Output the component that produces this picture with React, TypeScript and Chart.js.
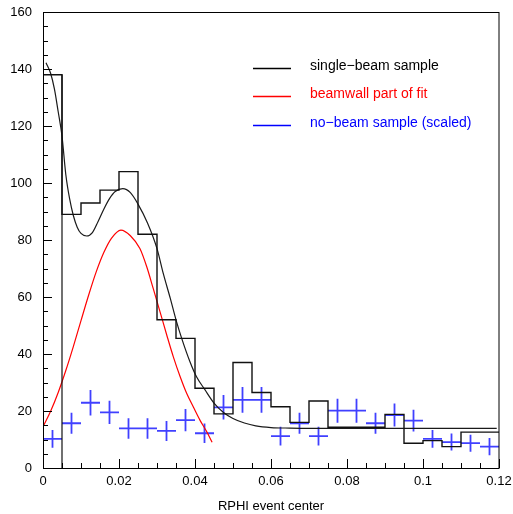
import React, { useEffect, useRef } from "react";
import { Chart, registerables } from "chart.js";

Chart.register(...registerables);

// ---------- data ----------
const binLowEdges = [
  0, 0.005, 0.01, 0.015, 0.02, 0.025, 0.03, 0.035, 0.04, 0.045, 0.05, 0.055,
  0.06, 0.065, 0.07, 0.075, 0.08, 0.085, 0.09, 0.095, 0.1, 0.105, 0.11, 0.115,
];
const binWidth = 0.005;
const singleBeamCounts = [
  138, 89, 93, 97.5, 104, 82, 52, 45.5, 28, 19, 37, 26.5, 21.5, 16, 23.5, 14.3,
  14.3, 14.3, 18.8, 8.7, 9.6, 7.5, 12.6, 12.6,
];
const noBeamValues = [
  10.2, 15.7, 22.9, 19.5, 13.9, 13.9, 13.0, 16.8, 12.2, 21.3, 23.9, 23.9, 11.2,
  15.7, 11.2, 20.1, 20.1, 15.7, 18.6, 16.6, 10.2, 9.1, 8.7, 7.5,
];
const noBeamErrors = [
  3.1, 3.7, 4.5, 4.1, 3.6, 3.6, 3.5, 3.9, 3.4, 4.3, 4.5, 4.5, 3.3, 3.7, 3.3,
  4.2, 4.2, 3.7, 4.0, 3.8, 3.1, 3.0, 3.0, 3.0,
];
const fitX = [
  0.0008, 0.002, 0.003, 0.004, 0.005, 0.006, 0.007, 0.008, 0.009, 0.01, 0.0115,
  0.013, 0.0145, 0.016, 0.0175, 0.019, 0.021, 0.023, 0.025, 0.0275, 0.03,
  0.0317, 0.0335, 0.035, 0.0365, 0.0387, 0.0404, 0.0426, 0.045, 0.0475, 0.05,
  0.053, 0.056, 0.06, 0.065, 0.07, 0.08, 0.09, 0.1, 0.11, 0.1194,
];
const fitY = [
  142.2, 138.5, 133, 125, 116.5, 103, 94.5, 88.5, 84.5, 82.3, 81.4, 82.6, 86.5,
  90.8, 94.5, 97, 98, 96.6, 92.6, 86, 77, 68, 59.5, 52, 45.5, 37.2, 32, 27.5,
  22.8, 19.5, 17.4, 15.8, 14.8, 14.2, 14, 13.9, 13.9, 13.9, 13.9, 13.9, 13.9,
];
const wallX = [
  0, 0.002, 0.004, 0.006, 0.008, 0.01, 0.012, 0.014, 0.016, 0.018, 0.0205,
  0.023, 0.0255, 0.0273, 0.029, 0.0308, 0.0326, 0.0343, 0.0361, 0.0378, 0.0396,
  0.0413, 0.0431, 0.0445,
];
const wallY = [
  14.5, 19.9, 26.5, 34.2, 42.7, 51.7, 60.6, 68.8, 75.6, 80.6, 83.5, 81.5, 77,
  70.6, 63, 54.8, 46.5, 39, 32, 26.2, 21.3, 16.8, 12.7, 9,
];
const xTickValues = [0, 0.02, 0.04, 0.06, 0.08, 0.1, 0.12];
const yTickValues = [0, 20, 40, 60, 80, 100, 120, 140, 160];
const xMinorStep = 0.005;
const yMinorStep = 5;
const xTitle = "RPHI event center";
const legendLabels = [
  "single\u2212beam sample",
  "beamwall part of fit",
  "no\u2212beam sample (scaled)",
];
const legendColors = ["#000000", "#ff0000", "#0000ff"];

const FONT = "'Liberation Sans', Arial, Helvetica, sans-serif";

// ---------- plugin: ROOT-style frame, inner ticks, legend ----------
const rootFramePlugin = {
  id: "rootFrame",
  afterDatasetsDraw(chart: any) {
    const ctx = chart.ctx as CanvasRenderingContext2D;
    const { left, right, top, bottom } = chart.chartArea;
    const xs = chart.scales.x;
    const ys = chart.scales.y;
    ctx.save();
    ctx.strokeStyle = "#000";
    ctx.lineWidth = 1;
    ctx.strokeRect(
      Math.round(left) + 0.5,
      Math.round(top) + 0.5,
      Math.round(right - left) - 0.5,
      Math.round(bottom - top)
    );

    // y ticks
    const yMax = yTickValues[yTickValues.length - 1];
    for (let i = 0; yTickValues[0] + i * yMinorStep <= yMax + 1e-9; i++) {
      const v = yTickValues[0] + i * yMinorStep;
      const isMajor = yTickValues.some((t) => Math.abs(t - v) < 1e-9);
      const py = Math.round(ys.getPixelForValue(v)) + 0.5;
      ctx.beginPath();
      ctx.moveTo(left, py);
      ctx.lineTo(left + (isMajor ? 9 : 5), py);
      ctx.stroke();
    }
    // x ticks
    const xMax = xTickValues[xTickValues.length - 1];
    for (let i = 0; xTickValues[0] + i * xMinorStep <= xMax + 1e-9; i++) {
      const v = xTickValues[0] + i * xMinorStep;
      const isMajor = xTickValues.some((t) => Math.abs(t - v) < 1e-9);
      const px = Math.round(xs.getPixelForValue(v)) + 0.5;
      ctx.beginPath();
      ctx.moveTo(px, bottom);
      ctx.lineTo(px, bottom - (isMajor ? 9 : 5));
      ctx.stroke();
    }

    // legend
    ctx.font = `14px ${FONT}`;
    ctx.textBaseline = "middle";
    ctx.textAlign = "left";
    const legLineX0 = 253;
    const legLineX1 = 291;
    const legTextX = 310;
    const legYs = [66, 94, 123];
    legendLabels.forEach((lab, i) => {
      const y = legYs[i];
      ctx.beginPath();
      ctx.strokeStyle = legendColors[i];
      ctx.lineWidth = 1.3;
      ctx.moveTo(legLineX0, y + 2.5);
      ctx.lineTo(legLineX1, y + 2.5);
      ctx.stroke();
      ctx.fillStyle = legendColors[i];
      ctx.fillText(lab, legTextX, y);
    });
    ctx.restore();
  },
};

export default function App() {
  const canvasRef = useRef<HTMLCanvasElement | null>(null);

  useEffect(() => {
    const canvas = canvasRef.current;
    if (!canvas) return;

    const histPoints: { x: number; y: number }[] = [];
    binLowEdges.forEach((lo, i) => {
      histPoints.push({ x: lo, y: singleBeamCounts[i] });
      histPoints.push({ x: lo + binWidth, y: singleBeamCounts[i] });
    });
    const firstEdgeLine = [
      { x: binLowEdges[1], y: 0 },
      { x: binLowEdges[1], y: singleBeamCounts[0] },
    ];
    const fitPoints = fitX.map((x, i) => ({ x, y: fitY[i] }));
    const wallPoints = wallX.map((x, i) => ({ x, y: wallY[i] }));
    const crossPoints: { x: number; y: number | null }[] = [];
    binLowEdges.forEach((lo, i) => {
      const xc = lo + binWidth / 2;
      const v = noBeamValues[i];
      const e = noBeamErrors[i];
      crossPoints.push({ x: lo, y: v });
      crossPoints.push({ x: lo + binWidth, y: v });
      crossPoints.push({ x: lo + binWidth, y: null });
      crossPoints.push({ x: xc, y: v - e });
      crossPoints.push({ x: xc, y: v + e });
      crossPoints.push({ x: xc, y: null });
    });

    const common = {
      pointRadius: 0,
      pointHoverRadius: 0,
      fill: false,
      spanGaps: false,
    };

    const chart = new Chart(canvas, {
      type: "line",
      data: {
        datasets: [
          {
            ...common,
            label: "single-beam sample histogram",
            data: histPoints,
            borderColor: "#111111",
            borderWidth: 1.4,
            tension: 0,
          },
          {
            ...common,
            label: "edge",
            data: firstEdgeLine,
            borderColor: "#111111",
            borderWidth: 1.2,
            tension: 0,
          },
          {
            ...common,
            label: "fit",
            data: fitPoints,
            borderColor: "#1a1a1a",
            borderWidth: 1.2,
            cubicInterpolationMode: "monotone",
          },
          {
            ...common,
            label: "beamwall part of fit",
            data: wallPoints,
            borderColor: "#ff0000",
            borderWidth: 1.2,
            cubicInterpolationMode: "monotone",
          },
          {
            ...common,
            label: "no-beam sample (scaled)",
            data: crossPoints,
            borderColor: "rgba(30,30,255,0.85)",
            borderWidth: 1.8,
            tension: 0,
          },
        ],
      } as any,
      options: {
        animation: false,
        responsive: false,
        devicePixelRatio: 1,
        events: [],
        layout: { padding: { left: 0, right: 14, top: 12, bottom: 0 } },
        plugins: {
          legend: { display: false },
          tooltip: { enabled: false },
        },
        scales: {
          x: {
            type: "linear",
            min: 0,
            max: 0.12,
            grid: { display: false, drawTicks: false },
            border: { display: false },
            afterBuildTicks: (s: any) => {
              s.ticks = xTickValues.map((v) => ({ value: v }));
            },
            afterFit: (s: any) => {
              s.height = 46;
              s.paddingLeft = 0;
              s.paddingRight = 0;
            },
            ticks: {
              padding: 6,
              color: "#000",
              font: { family: FONT, size: 13 },
              maxRotation: 0,
              autoSkip: false,
              callback: (v: any) => String(Number(Number(v).toFixed(3))),
            },
            title: {
              display: true,
              text: xTitle,
              color: "#000",
              font: { family: FONT, size: 13 },
              padding: { top: 0, bottom: 0 },
            },
          },
          y: {
            type: "linear",
            min: 0,
            max: 160,
            grid: { display: false, drawTicks: false },
            border: { display: false },
            afterBuildTicks: (s: any) => {
              s.ticks = yTickValues.map((v) => ({ value: v }));
            },
            afterFit: (s: any) => {
              s.width = 43;
              s.paddingTop = 0;
              s.paddingBottom = 0;
            },
            ticks: {
              padding: 11,
              color: "#000",
              font: { family: FONT, size: 13 },
              autoSkip: false,
              callback: (v: any) => String(v),
            },
          },
        },
      },
      plugins: [rootFramePlugin],
    });

    return () => {
      chart.destroy();
    };
  }, []);

  return (
    <div
      style={{
        position: "fixed",
        left: 0,
        top: 0,
        width: 513,
        height: 514,
        background: "#fff",
      }}
    >
      <canvas ref={canvasRef} width={513} height={514} style={{ display: "block" }} />
    </div>
  );
}
